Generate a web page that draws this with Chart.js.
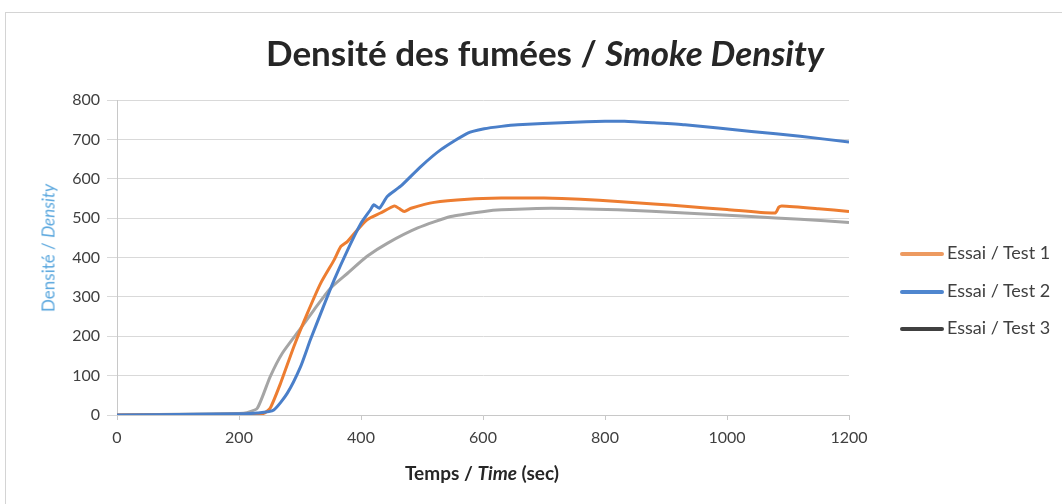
<!DOCTYPE html>
<html>
<head>
<meta charset="utf-8">
<script src="https://cdn.jsdelivr.net/npm/chart.js@4/dist/chart.umd.min.js"></script>
<style>
  body { margin: 0; background: #fff; }
  #wrap { position: relative; width: 1062px; height: 504px; overflow: hidden; background: #fff; }
  #frame { position: absolute; left: 5px; top: 12px; width: 1100px; height: 600px;
           border-top: 1px solid #d4d4d4; border-left: 1px solid #d4d4d4; }
  #chart { position: absolute; left: 0; top: 0; }
  #title { position: absolute; left: 545px; top: 52px; transform: translate(-50%, -50%);
           white-space: nowrap; font: bold 35px Lato, sans-serif; color: #262626; }
  #ytitle { position: absolute; left: 48px; top: 248px; transform: translate(-50%, -50%) rotate(-90deg);
            white-space: nowrap; font: 17px Lato, sans-serif; color: #5aa7de; }
  #xtitle { position: absolute; left: 482px; top: 472px; transform: translate(-50%, -50%);
            white-space: nowrap; font: bold 19px Lato, sans-serif; color: #262626; }
  .leg { position: absolute; left: 900px; height: 24px; line-height: 24px; white-space: nowrap;
         font: 18px Lato, sans-serif; color: #404040; transform: translateY(-50%); }
  .leg span.sw { display: inline-block; width: 44px; height: 4px; border-radius: 2px;
                 vertical-align: middle; margin-right: 3px; }
</style>
</head>
<body>
<div id="wrap">
  <div id="frame"></div>
  <canvas id="chart" width="1062" height="504"></canvas>
  <div id="title">Densité des fumées / <i>Smoke Density</i></div>
  <div id="ytitle">Densité / <i>Density</i></div>
  <div id="xtitle">Temps / <i>Time</i> (sec)</div>
  <div id="legend"></div>
</div>
<script>
// ! values
var test1Time = [0, 200, 240, 251, 268, 290, 312, 334, 356, 367, 378, 394, 410, 432, 455, 462, 471, 482, 520, 575, 630, 700, 760, 821, 880, 931, 1000, 1079, 1085, 1090, 1150, 1200];
var test1Density = [0, 2, 4, 17, 80, 174, 258, 335, 394, 428, 441, 470, 496, 513, 531, 525, 517, 525, 540, 548, 551, 551, 548, 542, 536, 530, 522, 513, 528, 531, 524, 517];

var test2Time = [0, 200, 230, 257, 279, 301, 317, 334, 356, 378, 400, 415, 421, 430, 443, 465, 498, 531, 575, 602, 630, 657, 739, 800, 832, 880, 931, 1040, 1120, 1200];
var test2Density = [0, 3, 5, 13, 55, 123, 191, 258, 343, 419, 487, 520, 534, 525, 555, 581, 631, 674, 716, 727, 733, 737, 743, 746, 746, 742, 737, 720, 708, 693];

var test3Time = [0, 200, 213, 230, 251, 271, 301, 323, 350, 378, 410, 443, 493, 547, 602, 630, 712, 821, 931, 1040, 1120, 1200];
var test3Density = [0, 4, 6, 17, 97, 157, 220, 267, 322, 360, 403, 436, 475, 504, 517, 521, 525, 521, 513, 504, 497, 489];

var seriesNames = ["Essai / Test 1", "Essai / Test 2", "Essai / Test 3"];
var seriesColors = ["#ed7d31", "#4a7fc9", "#a5a5a5"];
var legendColors = ["#ed9a60", "#4f86cf", "#404040"];
var xTicks = [0, 200, 400, 600, 800, 1000, 1200];
var yTicks = [0, 100, 200, 300, 400, 500, 600, 700, 800];

function points(xs, ys) {
  var out = [];
  for (var i = 0; i < xs.length; i++) {
    out.push({ x: xs[i], y: ys[i] });
  }
  return out;
}

var allTimes = [test1Time, test2Time, test3Time];
var allDensity = [test1Density, test2Density, test3Density];
var drawOrder = [2, 1, 3];
var datasets = [];
for (var i = 0; i < 3; i++) {
  datasets.push({
    label: seriesNames[i],
    data: points(allTimes[i], allDensity[i]),
    borderColor: seriesColors[i],
    backgroundColor: seriesColors[i],
    borderWidth: 3,
    pointRadius: 0,
    tension: 0.2,
    order: drawOrder[i]
  });
}

// ! legend (html)
var legendY = [253, 291, 328];
var legend = document.querySelector('#legend');
var html = '';
for (var i = 0; i < 3; i++) {
  html += `<div class="leg" style="top:${legendY[i]}px"><span class="sw" style="background:${legendColors[i]}"></span>${seriesNames[i]}</div>`;
}
legend.innerHTML = html;

var tickFont = { family: 'Lato', size: 16 };

new Chart(document.getElementById('chart'), {
  type: 'line',
  data: { datasets: datasets },
  options: {
    responsive: false,
    animation: false,
    layout: { padding: { top: 100, right: 213, left: 0, bottom: 0 } },
    plugins: {
      legend: { display: false },
      title: { display: false },
      tooltip: { enabled: false }
    },
    scales: {
      x: {
        type: 'linear',
        min: 0,
        max: 1200,
        afterBuildTicks: function (scale) {
          scale.ticks = xTicks.map(function (v) { return { value: v }; });
        },
        afterFit: function (scale) { scale.height = 89; },
        ticks: {
          color: '#404040', font: tickFont, padding: 8, maxRotation: 0,
          callback: function (value) { return String(value); }
        },
        grid: { drawOnChartArea: false, drawTicks: true, tickLength: 5, color: '#c8c8c8' },
        border: { color: '#c8c8c8' }
      },
      y: {
        min: 0,
        max: 800,
        afterBuildTicks: function (scale) {
          scale.ticks = yTicks.map(function (v) { return { value: v }; });
        },
        afterFit: function (scale) { scale.width = 117; },
        ticks: { color: '#404040', font: tickFont, padding: 7 },
        grid: { color: '#d9d9d9', tickLength: 10 },
        border: { color: '#c8c8c8' }
      }
    }
  }
});
</script>
</body>
</html>
